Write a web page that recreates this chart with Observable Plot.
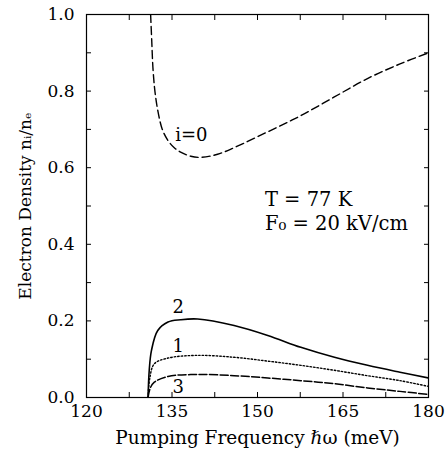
<!DOCTYPE html>
<html>
<head>
<meta charset="utf-8">
<script src="https://cdn.jsdelivr.net/npm/d3@7"></script>
<script src="https://cdn.jsdelivr.net/npm/@observablehq/plot@0.6"></script>
<style>
  body { margin: 0; background: #fff; }
</style>
</head>
<body>
<div id="chart"></div>
<script>
const FONT = "DejaVu Serif";
// i = 0 (dashed)
const x0 = [131.25, 131.45, 131.65, 132.0, 132.5, 133.3, 134.3, 135.4, 136.6, 138.3, 140.1, 143.0, 146.0, 151.7, 157.6, 163.4, 169.2, 175.0, 180.0];
const y0 = [1.0, 0.93, 0.862, 0.80, 0.75, 0.70, 0.671, 0.652, 0.64, 0.63, 0.627, 0.635, 0.653, 0.693, 0.736, 0.784, 0.832, 0.871, 0.90];
// i = 2 (solid)
const x2 = [130.8, 131.0, 131.4, 132.5, 134.3, 136.5, 139.5, 145.9, 151.8, 157.6, 163.5, 169.3, 175.0, 180.0];
const y2 = [0.0, 0.07, 0.123, 0.175, 0.197, 0.203, 0.205, 0.188, 0.162, 0.131, 0.105, 0.084, 0.066, 0.051];
// i = 1 (dotted)
const x1 = [130.8, 131.1, 131.9, 134.3, 139.5, 145.9, 151.8, 157.6, 163.5, 169.3, 175.0, 180.0];
const y1 = [0.0, 0.05, 0.088, 0.103, 0.11, 0.105, 0.095, 0.084, 0.071, 0.057, 0.044, 0.029];
// i = 3 (dash)
const x3 = [130.8, 131.2, 131.9, 134.3, 139.5, 145.9, 151.8, 157.6, 163.5, 169.3, 175.0, 180.0];
const y3 = [0.0, 0.025, 0.04, 0.055, 0.06, 0.057, 0.051, 0.044, 0.036, 0.025, 0.016, 0.008];

const xTickLabels = [120, 135, 150, 165, 180];
const xMinorTicks = [120, 127.5, 135, 142.5, 150, 157.5, 165, 172.5, 180];
const yTickLabels = [0.0, 0.2, 0.4, 0.6, 0.8, 1.0];
const yMinorTicks = [0, 0.1, 0.2, 0.3, 0.4, 0.5, 0.6, 0.7, 0.8, 0.9, 1.0];
const xTitle = "Pumping Frequency \u210F\u03C9 (meV)";
const yTitle = "Electron Density n\u1D62/n\u2091";

const curveLabels = [
  {x: 138.4, y: 0.684, t: "i=0"},
  {x: 136.1, y: 0.235, t: "2"},
  {x: 136.1, y: 0.135, t: "1"},
  {x: 136.1, y: 0.026, t: "3"}
];
const annot = [
  {x: 151.3, y: 0.500, t: "T = 77 K"},
  {x: 151.3, y: 0.438, t: "F\u2080 = 20 kV/cm"}
];

const toRows = (xs, ys) => xs.map((x, i) => ({x, y: ys[i]}));

const chart = Plot.plot({
  width: 448,
  height: 455,
  marginLeft: 86,
  marginRight: 20,
  marginTop: 14,
  marginBottom: 58,
  style: {fontFamily: "'DejaVu Serif', serif", fontSize: "17px", background: "#fff", color: "#000"},
  x: {domain: [120, 180]},
  y: {domain: [0, 1]},
  marks: [
    Plot.frame({stroke: "#000", strokeWidth: 1.2}),
    // inward minor ticks on all four sides
    Plot.axisX(xMinorTicks, {anchor: "bottom", tickSize: -5, tickFormat: () => "", label: null}),
    Plot.axisX(xMinorTicks, {anchor: "top", tickSize: -5, tickFormat: () => "", label: null}),
    Plot.axisY(yMinorTicks, {anchor: "left", tickSize: -5, tickFormat: () => "", label: null}),
    Plot.axisY(yMinorTicks, {anchor: "right", tickSize: -5, tickFormat: () => "", label: null}),
    // tick labels
    Plot.axisX(xTickLabels, {anchor: "bottom", tickSize: 0, tickPadding: 7, fontSize: 17, fontFamily: FONT, label: null}),
    Plot.axisY(yTickLabels, {anchor: "left", tickSize: 0, tickPadding: 12, fontSize: 17, fontFamily: FONT,
      tickFormat: d => d.toFixed(1),
      label: yTitle, labelAnchor: "center", labelArrow: "none", labelOffset: 68}),
    // x-axis title
    Plot.text([xTitle], {frameAnchor: "bottom", text: d => d, dy: 46, lineAnchor: "bottom", fontSize: 18.5, fontFamily: FONT, fill: "#000"}),
    Plot.line(toRows(x0, y0), {x: "x", y: "y", curve: "catmull-rom", stroke: "#000", strokeWidth: 1.4, strokeDasharray: "8,4", clip: true}),
    Plot.line(toRows(x2, y2), {x: "x", y: "y", curve: "catmull-rom", stroke: "#000", strokeWidth: 1.6, clip: true}),
    Plot.line(toRows(x1, y1), {x: "x", y: "y", curve: "catmull-rom", stroke: "#000", strokeWidth: 1.4, strokeDasharray: "1.5,2", clip: true}),
    Plot.line(toRows(x3, y3), {x: "x", y: "y", curve: "catmull-rom", stroke: "#000", strokeWidth: 1.5, strokeDasharray: "8,2.5", clip: true}),
    Plot.text(curveLabels, {x: "x", y: "y", text: "t", fontSize: 18, fontFamily: FONT, fill: "#000"}),
    Plot.text(annot, {x: "x", y: "y", text: "t", textAnchor: "start", lineAnchor: "bottom", fontSize: 19.5, fontFamily: FONT, fill: "#000"})
  ]
});
document.getElementById("chart").appendChild(chart);
</script>
</body>
</html>
